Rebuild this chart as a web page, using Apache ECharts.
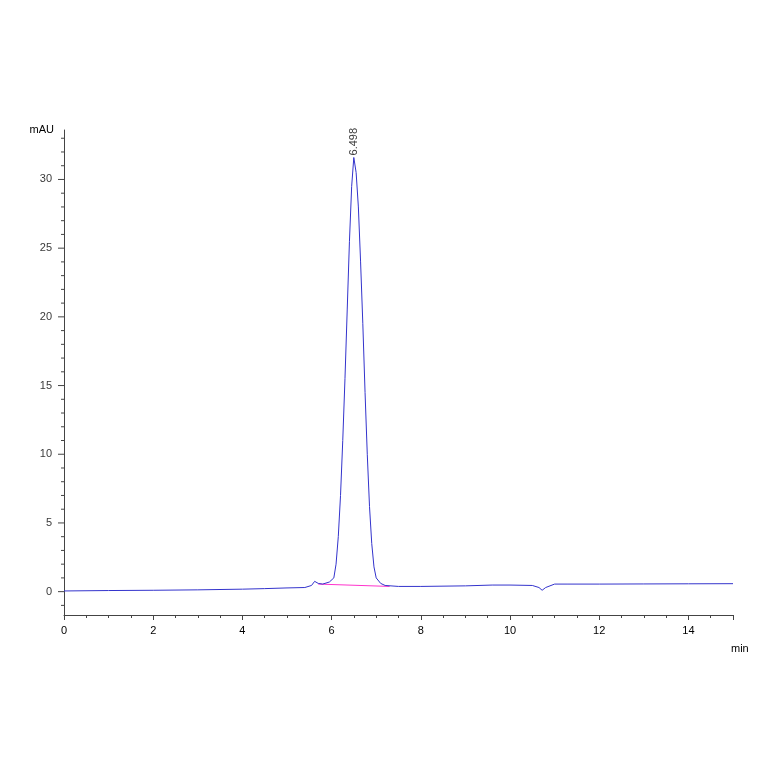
<!DOCTYPE html><html><head><meta charset="utf-8"><script src="https://cdn.jsdelivr.net/npm/echarts@6/dist/echarts.min.js"></script></head><body style="margin:0;background:#fff"><div id="c" style="width:764px;height:764px"></div><script>
const signal=[[0,0.05],[1,0.08],[2,0.1],[3,0.13],[4,0.18],[4.5,0.22],[5,0.27],[5.4,0.3],[5.55,0.45],[5.62,0.75],[5.7,0.6],[5.8,0.55],[5.95,0.7],[6.05,1.0],[6.1,2.0],[6.15,4.0],[6.2,7.0],[6.25,11.0],[6.3,15.5],[6.35,20.5],[6.4,25.5],[6.45,29.5],[6.498,31.6],[6.55,30.5],[6.6,28.0],[6.65,24.0],[6.7,19.5],[6.75,14.5],[6.8,10.0],[6.85,6.2],[6.9,3.5],[6.95,1.8],[7.0,1.0],[7.1,0.6],[7.2,0.45],[7.5,0.38],[8,0.38],[9,0.42],[9.6,0.48],[10,0.48],[10.5,0.45],[10.65,0.3],[10.72,0.1],[10.8,0.3],[11,0.55],[11.3,0.55],[12,0.55],[13,0.56],[14,0.57],[15,0.58]];
const baseline=[[5.7,0.55],[7.3,0.38]];
const peakX=6.498, peakY=31.6, peakLabel='6.498';
const xTicks=[0,2,4,6,8,10,12,14], yTicks=[0,5,10,15,20,25,30];
const ch=echarts.init(document.getElementById('c'));
const ax={fontFamily:'Liberation Sans',fontSize:11,color:'#000'};
ch.setOption({animation:false,
grid:{left:64,right:31,top:130,bottom:149},
xAxis:{type:'value',min:0,max:15,interval:2,name:'min',nameLocation:'end',nameGap:-2,nameTextStyle:{...ax,padding:[28,0,0,0],verticalAlign:'top'},
axisLine:{onZero:false,lineStyle:{color:'#444'}},axisTick:{lineStyle:{color:'#444'},length:5},minorTick:{show:true,splitNumber:4,length:3,lineStyle:{color:'#444'}},
axisLabel:{...ax,margin:10,formatter:v=>xTicks.includes(v)?v:''},splitLine:{show:false}},
yAxis:{type:'value',min:-1.7,max:33.6,name:'mAU',nameLocation:'end',nameGap:-5,nameTextStyle:{...ax,align:'right',padding:[0,10,0,0]},
axisLine:{lineStyle:{color:'#444'}},axisTick:{show:false},splitLine:{show:false},axisLabel:{show:false}},
series:[
{type:'line',data:signal,showSymbol:false,lineStyle:{color:'#3333cc',width:1},z:3},
{type:'line',data:baseline,showSymbol:false,lineStyle:{color:'#ff33cc',width:1},z:2},
{type:'scatter',data:[[peakX,peakY]],symbolSize:0,label:{show:true,formatter:peakLabel,rotate:90,position:'top',distance:2,align:'left',verticalAlign:'middle',fontFamily:'Liberation Sans',fontSize:11,color:'#000'}},
{type:'scatter',data:yTicks.map(v=>[0,v]),symbolSize:0,label:{show:true,formatter:p=>p.value[1],position:'left',distance:12,...ax}},
{type:'line',data:[],markLine:{silent:true,symbol:'none',label:{show:false},lineStyle:{color:'#444',width:1,type:'solid'},data:[]}}
],
graphic:[]});
// y ticks (major & minor) drawn via convertToPixel
const g=[];
for(let v=-1;v<=33;v++){const p=ch.convertToPixel({gridIndex:0},[0,v]);const L=v%5===0?6:3;g.push({type:'line',shape:{x1:p[0]-L,y1:p[1],x2:p[0],y2:p[1]},style:{stroke:'#444'}});}
ch.setOption({graphic:g});
</script></body></html>
